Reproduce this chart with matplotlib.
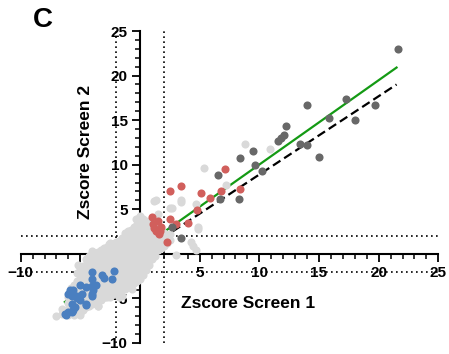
import matplotlib

matplotlib.use("Agg")
import matplotlib.pyplot as plt
from matplotlib.ticker import MultipleLocator, FixedLocator

plt.rcParams["font.family"] = ["Liberation Sans", "DejaVu Sans"]
plt.rcParams["font.weight"] = "bold"

# background cloud of non-hit genes (screen 1 z, screen 2 z)
cloud_pts = [
    (-7.0, -7.0), (-6.5, -6.8), (-6.5, -6.2),
    (-6.0, -6.9), (-6.0, -6.2), (-6.0, -5.5), (-6.0, -4.8),
    (-5.5, -6.9), (-5.5, -6.2), (-5.5, -5.5), (-5.5, -4.8), (-5.5, -4.1), (-5.5, -3.5),
    (-5.0, -6.6), (-5.0, -5.9), (-5.0, -5.2), (-5.0, -4.5), (-5.0, -3.8), (-5.0, -3.1),
    (-5.0, -2.4), (-5.0, -1.6),
    (-4.5, -6.0), (-4.5, -5.3), (-4.5, -4.6), (-4.5, -3.9), (-4.5, -3.2), (-4.5, -2.5),
    (-4.5, -1.8), (-4.5, -1.2), (-4.5, -0.6),
    (-4.0, -5.6), (-4.0, -4.9), (-4.0, -4.2), (-4.0, -3.5), (-4.0, -2.8), (-4.0, -2.1),
    (-4.0, -1.4), (-4.0, -0.7), (-4.0, 0.3),
    (-3.5, -5.9), (-3.5, -5.2), (-3.5, -4.5), (-3.5, -3.8), (-3.5, -3.1), (-3.5, -2.4),
    (-3.5, -1.7), (-3.5, -1.0), (-3.5, -0.3), (-3.5, 0.2),
    (-3.0, -4.8), (-3.0, -4.1), (-3.0, -3.4), (-3.0, -2.7), (-3.0, -2.0), (-3.0, -1.3),
    (-3.0, -0.6), (-3.0, 0.1), (-3.0, 0.7),
    (-2.5, -4.8), (-2.5, -4.2), (-2.5, -3.5), (-2.5, -2.8), (-2.5, -2.1), (-2.5, -1.4),
    (-2.5, -0.7), (-2.5, 0.0), (-2.5, 0.7), (-2.5, 1.2),
    (-2.0, -4.3), (-2.0, -3.6), (-2.0, -2.9), (-2.0, -2.2), (-2.0, -1.5), (-2.0, -0.8),
    (-2.0, -0.1), (-2.0, 0.6), (-2.0, 1.3),
    (-1.5, -4.7), (-1.5, -3.9), (-1.5, -3.2), (-1.5, -2.5), (-1.5, -1.8), (-1.5, -1.1),
    (-1.5, -0.4), (-1.5, 0.3), (-1.5, 1.0), (-1.5, 1.8),
    (-1.0, -3.6), (-1.0, -2.9), (-1.0, -2.2), (-1.0, -1.5), (-1.0, -0.8), (-1.0, -0.1),
    (-1.0, 0.6), (-1.0, 1.3), (-1.0, 2.0), (-1.0, 2.6),
    (-0.5, -3.3), (-0.5, -2.6), (-0.5, -1.9), (-0.5, -1.2), (-0.5, -0.5), (-0.5, 0.2),
    (-0.5, 0.9), (-0.5, 1.6), (-0.5, 2.3), (-0.5, 3.0),
    (0.0, -2.8), (0.0, -2.1), (0.0, -1.4), (0.0, -0.7), (0.0, 0.0), (0.0, 0.7),
    (0.0, 1.4), (0.0, 2.1), (0.0, 2.8), (0.0, 3.5), (0.0, 4.2),
    (0.5, -1.8), (0.5, -1.1), (0.5, -0.4), (0.5, 0.3), (0.5, 1.0), (0.5, 1.7),
    (0.5, 2.4), (0.5, 3.1), (0.5, 3.7),
    (1.0, -0.6), (1.0, 0.1), (1.0, 0.8), (1.0, 1.5), (1.0, 2.2), (1.0, 2.9), (1.0, 3.6),
    (1.5, 0.4), (1.5, 1.1), (1.5, 1.8), (1.5, 2.5), (1.5, 3.2), (1.5, 4.5),
    (2.0, 0.9), (2.0, 1.6), (2.0, 2.3), (2.5, 1.5), (2.5, 2.2),
    (-5.75, -6.5), (-5.75, -5.8), (-5.75, -5.1), (-5.75, -4.4), (-5.75, -3.8),
    (-5.25, -6.5), (-5.25, -5.8), (-5.25, -5.1), (-5.25, -4.4), (-5.25, -3.7), (-5.25, -3.0),
    (-5.25, -2.2),
    (-4.75, -6.3), (-4.75, -5.6), (-4.75, -4.9), (-4.75, -4.2), (-4.75, -3.5), (-4.75, -2.8),
    (-4.75, -2.1), (-4.75, -1.4),
    (-4.25, -5.8), (-4.25, -5.1), (-4.25, -4.4), (-4.25, -3.7), (-4.25, -3.0), (-4.25, -2.3),
    (-4.25, -1.6), (-4.25, -0.9), (-4.25, -0.2),
    (-3.75, -5.5), (-3.75, -4.8), (-3.75, -4.1), (-3.75, -3.4), (-3.75, -2.7), (-3.75, -2.0),
    (-3.75, -1.3), (-3.75, -0.6), (-3.75, 0.1),
    (-3.25, -5.2), (-3.25, -4.5), (-3.25, -3.8), (-3.25, -3.1), (-3.25, -2.4), (-3.25, -1.7),
    (-3.25, -1.0), (-3.25, -0.3), (-3.25, 0.4),
    (-2.75, -4.8), (-2.75, -4.1), (-2.75, -3.4), (-2.75, -2.7), (-2.75, -2.0), (-2.75, -1.3),
    (-2.75, -0.6), (-2.75, 0.1), (-2.75, 0.8),
    (-2.25, -4.5), (-2.25, -3.8), (-2.25, -3.1), (-2.25, -2.4), (-2.25, -1.7), (-2.25, -1.0),
    (-2.25, -0.3), (-2.25, 0.4), (-2.25, 1.1),
    (-1.75, -4.2), (-1.75, -3.5), (-1.75, -2.8), (-1.75, -2.1), (-1.75, -1.4), (-1.75, -0.7),
    (-1.75, 0.0), (-1.75, 0.7), (-1.75, 1.4),
    (-1.25, -3.9), (-1.25, -3.2), (-1.25, -2.5), (-1.25, -1.8), (-1.25, -1.1), (-1.25, -0.4),
    (-1.25, 0.3), (-1.25, 1.0), (-1.25, 1.7), (-1.25, 2.3),
    (-0.75, -3.5), (-0.75, -2.8), (-0.75, -2.1), (-0.75, -1.4), (-0.75, -0.7), (-0.75, 0.0),
    (-0.75, 0.7), (-0.75, 1.4), (-0.75, 2.1), (-0.75, 2.7),
    (-0.25, -3.0), (-0.25, -2.3), (-0.25, -1.6), (-0.25, -0.9), (-0.25, -0.2), (-0.25, 0.5),
    (-0.25, 1.2), (-0.25, 1.9), (-0.25, 2.6), (-0.25, 3.3),
    (0.25, -2.4), (0.25, -1.7), (0.25, -1.0), (0.25, -0.3), (0.25, 0.4), (0.25, 1.1),
    (0.25, 1.8), (0.25, 2.5), (0.25, 3.2), (0.25, 3.9),
    (0.75, -1.2), (0.75, -0.5), (0.75, 0.2), (0.75, 0.9), (0.75, 1.6), (0.75, 2.3),
    (0.75, 3.0), (0.75, 3.6),
    (1.25, -0.2), (1.25, 0.5), (1.25, 1.2), (1.25, 1.9), (1.25, 2.6), (1.25, 3.3),
    (1.75, 0.7), (1.75, 1.4), (1.75, 2.1), (1.75, 2.8), (2.25, 1.2), (2.25, 1.9),
    (1.2, 5.9), (1.3, 6.0), (2.7, 5.2), (3.4, 6.0), (3.4, 5.8), (4.7, 5.6), (2.5, 5.2),
    (5.4, 9.6), (7.2, 7.7), (4.9, 3.0), (4.9, 2.8), (4.4, 0.9), (4.3, 1.3), (4.7, 0.4),
    (3.0, -0.1), (8.8, 12.3), (10.9, 11.8), (-0.1, 4.0), (-0.35, 3.9),
    (-0.7, -3.9), (-1.8, -4.8), (-2.9, -4.8), (-3.5, -5.9), (-5.0, -6.9), (-5.2, -1.3),
    (-2.6, 1.1),
]

blue_pts = [
    (-2.2, -1.9), (-3.05, -2.7), (-4.0, -2.05), (-3.7, -3.5), (-4.5, -3.7), (-4.9, -4.5),
    (-4.0, -4.7), (-4.5, -5.7), (-5.9, -4.1), (-5.7, -4.7), (-6.0, -4.5), (-5.3, -5.0),
    (-5.45, -6.0), (-5.6, -6.3), (-6.0, -6.5), (-6.3, -6.8), (-5.0, -3.5), (-2.35, -2.8),
    (-3.2, -2.4), (-4.0, -2.8), (-4.0, -3.6), (-3.9, -4.1), (-4.0, -4.5), (-4.5, -5.6),
    (-5.3, -4.7), (-5.6, -4.1), (-5.9, -4.3), (-5.0, -5.2), (-5.7, -5.6), (-6.2, -6.9),
    (-5.7, -6.5),
]

red_pts = [
    (7.1, 9.5), (8.4, 7.3), (6.8, 7.0), (5.9, 6.3), (5.1, 6.8), (3.4, 7.6), (2.5, 7.1),
    (4.8, 4.9), (4.0, 3.5), (3.0, 3.35), (2.5, 3.9), (2.3, 1.3), (1.04, 4.1), (1.1, 3.4),
    (1.3, 2.6), (1.6, 2.2), (1.8, 3.0), (1.5, 3.7), (1.2, 2.9), (1.7, 2.6),
]

dark_pts = [
    (21.6, 23.0), (17.3, 17.4), (19.7, 16.7), (18.05, 15.0), (15.8, 15.2), (13.96, 16.7),
    (12.2, 14.3), (12.06, 13.3), (11.8, 13.0), (11.6, 12.7), (13.4, 12.3), (14.0, 12.2),
    (15.0, 10.9), (9.5, 11.5), (8.4, 10.8), (9.6, 10.0), (10.2, 9.3), (6.5, 8.9),
    (8.3, 6.2), (6.7, 6.1), (3.4, 1.75), (2.7, 3.0),
]

# fitted line and reference line end points
fit_x = [-6.3, 21.5]
fit_y = [-5.4, 20.9]
ref_x = [1.8, 21.5]
ref_y = [1.7, 19.0]

cutoffs = [-2, 2]


def xy(pts):
    return [p[0] for p in pts], [p[1] for p in pts]


fig = plt.figure(figsize=(4.49, 3.54), dpi=100)
ax = fig.add_axes([0.0461, 0.0311, 0.9301, 0.8813])
ax.set_xlim(-10, 25)
ax.set_ylim(-10, 25)

for c in cutoffs:
    ax.plot([-10, 25], [c, c], color="black", lw=1.2, ls=(0, (1, 2)), zorder=1, clip_on=False)
    ax.plot([c, c], [-10, 25], color="black", lw=1.2, ls=(0, (1, 2)), zorder=1, clip_on=False)

ax.plot(fit_x, fit_y, color="#149a14", lw=1.6, zorder=2)
ax.plot(ref_x, ref_y, color="black", lw=1.6, ls=(0, (4, 2)), zorder=2)

ms = 34
x, y = xy(cloud_pts)
ax.scatter(x, y, s=ms, color="#d9d9d9", linewidths=0, zorder=3)
x, y = xy(blue_pts)
ax.scatter(x, y, s=ms, color="#4a7fc0", linewidths=0, zorder=3)
x, y = xy(red_pts)
ax.scatter(x, y, s=ms, color="#d15f5c", linewidths=0, zorder=3)
x, y = xy(dark_pts)
ax.scatter(x, y, s=ms, color="#686868", linewidths=0, zorder=3)

for side in ["top", "right"]:
    ax.spines[side].set_visible(False)
for side in ["left", "bottom"]:
    ax.spines[side].set_position("zero")
    ax.spines[side].set_linewidth(1.5)

major = [-10, -5, 5, 10, 15, 20, 25]
ax.xaxis.set_major_locator(FixedLocator(major))
ax.yaxis.set_major_locator(FixedLocator(major))
ax.xaxis.set_minor_locator(MultipleLocator(1))
ax.yaxis.set_minor_locator(MultipleLocator(1))
ax.tick_params(which="major", direction="out", length=6, width=1.3, labelsize=11, pad=3)
ax.tick_params(which="minor", direction="out", length=3.5, width=1.1)
for lab in ax.get_xticklabels() + ax.get_yticklabels():
    lab.set_fontweight("bold")

fig.text(0.553, 0.144, "Zscore Screen 1", fontsize=12.5, fontweight="bold", ha="center", va="center")
fig.text(0.19, 0.57, "Zscore Screen 2", fontsize=12.5, fontweight="bold", ha="center", va="center",
         rotation=90)
fig.text(0.096, 0.943, "C", fontsize=20, fontweight="bold", ha="center", va="center")

fig.savefig("out.png", dpi=100)
